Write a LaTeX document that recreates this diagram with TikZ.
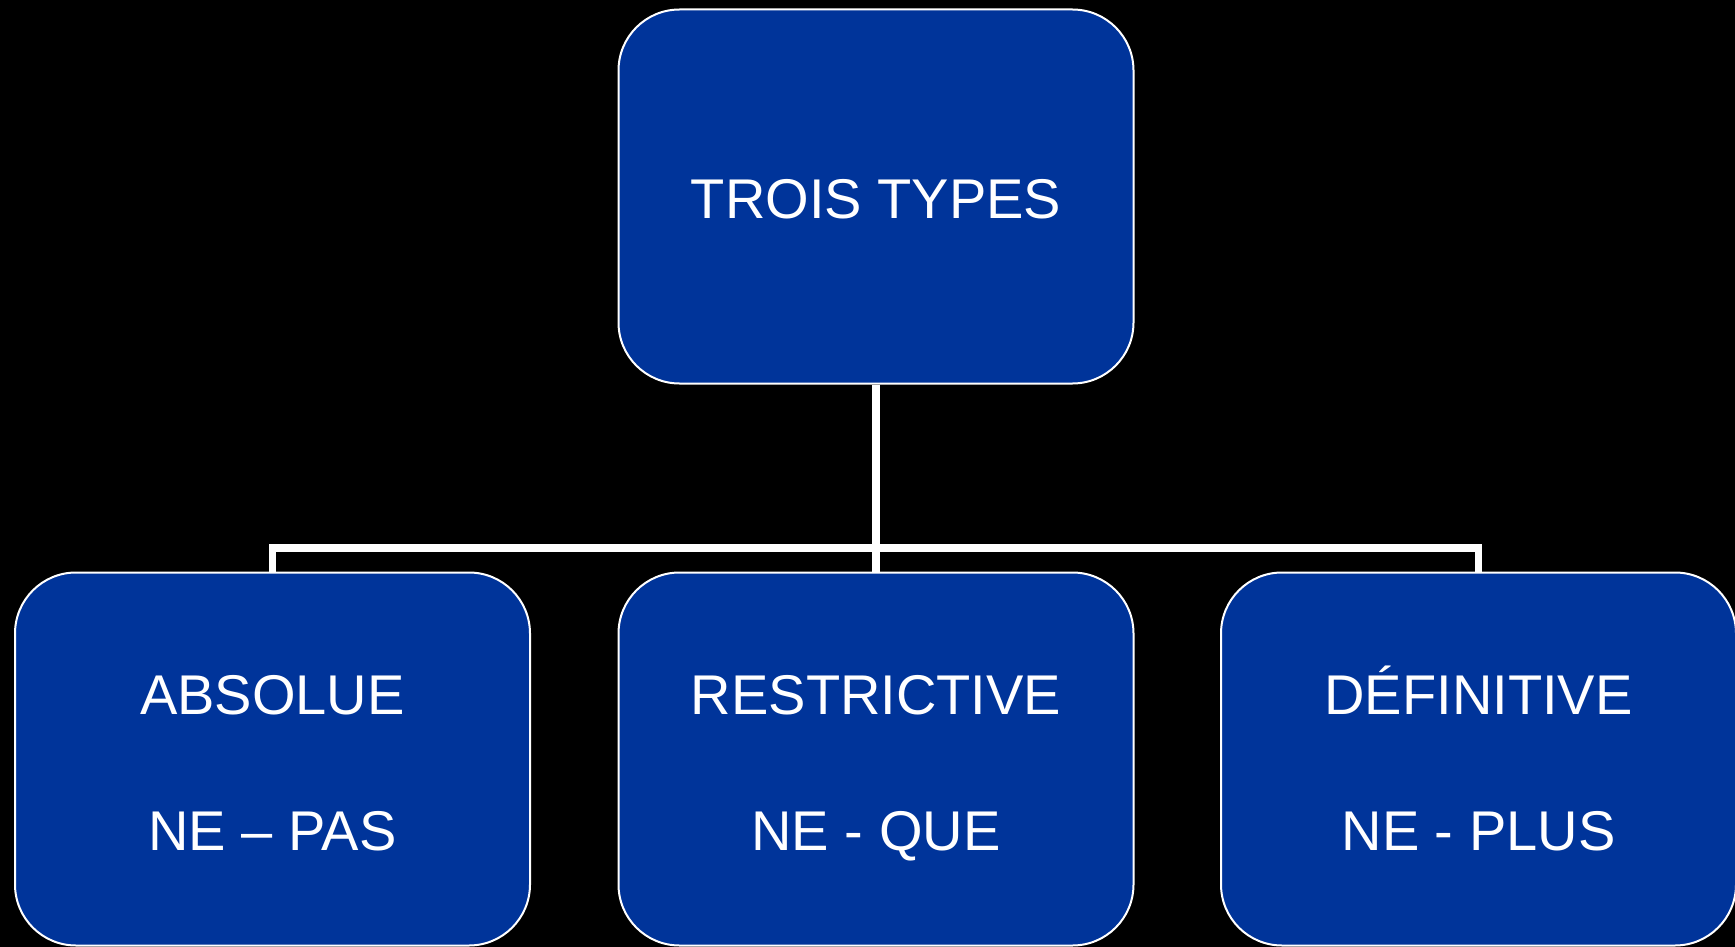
\documentclass[tikz,border=0pt]{standalone}
\usepackage{fontspec}
\setmainfont{Liberation Sans}
\definecolor{boxblue}{RGB}{0,52,154}
\begin{document}
\begin{tikzpicture}[x=1pt,y=-1pt,
  box/.style={draw=white,line width=2pt,fill=boxblue,rounded corners=61pt,
    minimum width=515pt,inner sep=0pt},
  lbl/.style={text=white,anchor=base,inner sep=0pt,font=\fontsize{56}{67}\selectfont},
  conn/.style={draw=white,line width=7.5pt}]
\fill[black] (0,0) rectangle (1735,947);
\useasboundingbox (0,0) rectangle (1735,947);
\node[box,minimum height=374pt] (top) at (876,196.5) {};
\node[box,minimum height=373pt] (left) at (272.5,759) {};
\node[box,minimum height=373pt] (mid) at (876,759) {};
\node[box,minimum height=373pt] (right) at (1478.5,759) {};
\node[lbl] (t1) at ([yshift=-22pt]top.center) {TROIS TYPES};
\node[lbl] (l1) at ([yshift=45pt]left.center) {ABSOLUE};
\node[lbl] (l2) at ([yshift=-91pt]left.center) {NE – PAS};
\node[lbl] (m1) at ([yshift=45pt]mid.center) {RESTRICTIVE};
\node[lbl] (m2) at ([yshift=-91pt]mid.center) {NE - QUE};
\node[lbl] (r1) at ([yshift=45pt]right.center) {DÉFINITIVE};
\node[lbl] (r2) at ([yshift=-91pt]right.center) {NE - PLUS};
\coordinate (j) at (876,548);
\draw[conn] (top.south) -- (mid.north);
\draw[conn] (left.north) |- (j) -| (right.north);
\end{tikzpicture}
\end{document}
